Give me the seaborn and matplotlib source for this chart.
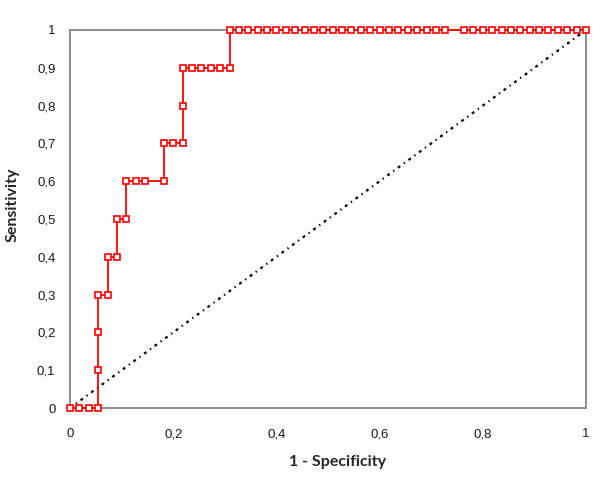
import matplotlib
matplotlib.use("Agg")
import matplotlib.pyplot as plt
import pandas as pd
import seaborn as sns

# ROC data: counts of false / true positives at each cut-off
n_neg = 55
n_pos = 10
false_pos = [0, 1, 2, 3, 3, 3, 3, 4, 4, 5, 5, 6, 6, 7, 8, 10, 10, 11, 12, 12,
             12, 13, 14, 15, 16, 17, 17, 18, 19, 20, 21, 22, 23, 24, 25, 26,
             27, 28, 29, 30, 31, 32, 33, 34, 35, 36, 37, 38, 39, 40, 42, 43,
             44, 45, 46, 47, 48, 49, 50, 51, 52, 53, 54, 55]
true_pos = [0, 0, 0, 0, 1, 2, 3, 3, 4, 4, 5, 5, 6, 6, 6, 6, 7, 7, 7, 8,
            9, 9, 9, 9, 9, 9, 10, 10, 10, 10, 10, 10, 10, 10, 10, 10,
            10, 10, 10, 10, 10, 10, 10, 10, 10, 10, 10, 10, 10, 10, 10, 10,
            10, 10, 10, 10, 10, 10, 10, 10, 10, 10, 10, 10]

diag_x = [0, 1]
diag_y = [0, 1]

x_ticks = [0, 0.2, 0.4, 0.6, 0.8, 1]
x_tick_labels = ["0", "0,2", "0,4", "0,6", "0,8", "1"]
y_ticks = [0, 0.1, 0.2, 0.3, 0.4, 0.5, 0.6, 0.7, 0.8, 0.9, 1]
y_tick_labels = ["0", "0,1", "0,2", "0,3", "0,4", "0,5", "0,6", "0,7", "0,8", "0,9", "1"]

df = pd.DataFrame({
    "fpr": [v / n_neg for v in false_pos],
    "tpr": [v / n_pos for v in true_pos],
})

sns.set_style("white")
plt.rcParams["font.family"] = ["Liberation Sans", "DejaVu Sans"]

fig = plt.figure(figsize=(6, 4.82), dpi=100)
ax = fig.add_axes([0.1167, 0.1535, 0.86, 0.7843])

sns.lineplot(x=diag_x, y=diag_y, ax=ax, color="black", linewidth=1.6,
             dashes=False, linestyle=(0, (1.3, 2.0, 0.6, 2.0)), zorder=3, clip_on=False)
sns.lineplot(data=df, x="fpr", y="tpr", ax=ax, sort=False, estimator=None,
             color="#ff0000", linewidth=1.3, marker="s", markersize=4.3,
             markerfacecolor="white", markeredgecolor="#ff0000", markeredgewidth=1.2,
             zorder=5, clip_on=False)

ax.set_xlim(0, 1)
ax.set_ylim(0, 1)
ax.set_xticks(x_ticks)
ax.set_xticklabels(x_tick_labels)
ax.set_yticks(y_ticks)
ax.set_yticklabels(y_tick_labels)

for side in ["left", "bottom", "top", "right"]:
    ax.spines[side].set_color("#868686")
    ax.spines[side].set_linewidth(1.3)
    ax.spines[side].set_visible(True)

ax.tick_params(axis="both", direction="inout", length=7, width=1, color="#868686",
               labelsize=9.5, labelcolor="#1a1a1a")
ax.tick_params(axis="x", pad=11)
ax.tick_params(axis="y", pad=7)

ax.set_xlabel("1 - Specificity", fontweight="bold", fontsize=11.5, family="Lato")
ax.set_ylabel("Sensitivity", fontweight="bold", fontsize=11.5, family="Lato")
ax.xaxis.set_label_coords(0.519, -0.124)
ax.yaxis.set_label_coords(-0.098, 0.537)

fig.savefig("out.png", dpi=100)
